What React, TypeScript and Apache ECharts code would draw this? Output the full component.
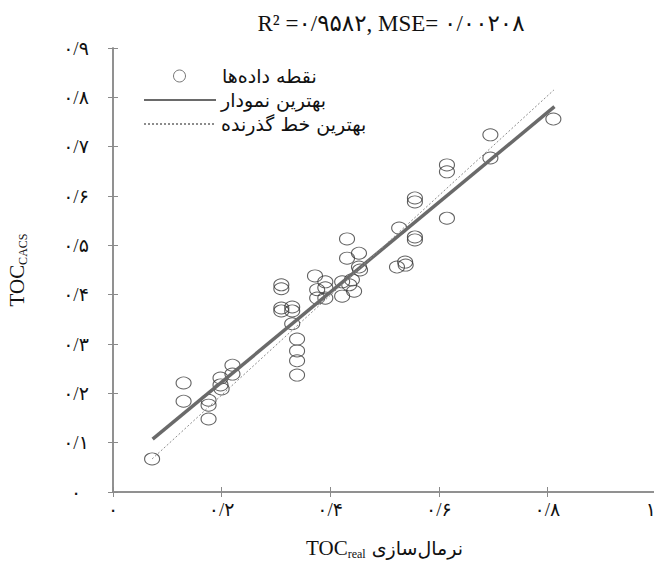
import React, { useEffect, useRef } from "react";
import * as echarts from "echarts";

// Scatter data (normalised TOC_real vs TOC_CACS)
const pointsX = [
  0.072, 0.13, 0.13, 0.176, 0.176, 0.176, 0.198, 0.198, 0.2, 0.22, 0.22,
  0.31, 0.31, 0.31, 0.31, 0.33, 0.33, 0.33, 0.339, 0.339, 0.339, 0.339,
  0.372, 0.376, 0.376, 0.391, 0.391, 0.391, 0.422, 0.422, 0.431, 0.431,
  0.44, 0.444, 0.435, 0.453, 0.453, 0.455, 0.527, 0.523, 0.538, 0.539,
  0.556, 0.556, 0.556, 0.556, 0.615, 0.615, 0.615, 0.695, 0.695, 0.811,
];
const pointsY = [
  0.067, 0.221, 0.184, 0.186, 0.176, 0.148, 0.231, 0.217, 0.209, 0.257, 0.239,
  0.42, 0.412, 0.373, 0.367, 0.375, 0.367, 0.341, 0.31, 0.286, 0.266, 0.237,
  0.438, 0.41, 0.393, 0.426, 0.414, 0.393, 0.426, 0.397, 0.513, 0.474,
  0.43, 0.407, 0.42, 0.484, 0.456, 0.45, 0.535, 0.456, 0.466, 0.46,
  0.596, 0.588, 0.517, 0.511, 0.663, 0.649, 0.555, 0.724, 0.677, 0.756,
];
// Best fit line (solid) and best passing line (dotted) end points
const fitLineX = [0.073, 0.813];
const fitLineY = [0.107, 0.781];
const passLineX = [0.072, 0.812];
const passLineY = [0.067, 0.815];

const seriesNames = ["نقطه داده‌ها", "بهترین نمودار", "بهترین خط گذرنده"];
const titleText = "R² =۰/۹۵۸۲, MSE= ۰/۰۰۲۰۸";

const FA_DIGITS = "۰۱۲۳۴۵۶۷۸۹";
const toFa = (v: number) =>
  String(Math.round(v * 10) / 10)
    .replace(/[0-9]/g, (d) => FA_DIGITS[+d])
    .replace(".", "/");

const SERIF = "'Liberation Serif', 'DejaVu Sans', serif";
const PERSIAN = "'DejaVu Sans', sans-serif";
const AXIS_GRAY = "#8a8a8a";
const INK = "#111111";

export default function App() {
  const ref = useRef<HTMLDivElement>(null);

  useEffect(() => {
    if (!ref.current) return;
    const chart = echarts.init(ref.current, undefined, { renderer: "svg" });

    const scatterData = pointsX.map((x, i) => [x, pointsY[i]]);
    const fitData = fitLineX.map((x, i) => [x, fitLineY[i]]);
    const passData = passLineX.map((x, i) => [x, passLineY[i]]);

    const axisLine = { show: true, lineStyle: { color: AXIS_GRAY, width: 1.5 } };
    const axisTick = { show: true, inside: true, length: 5, lineStyle: { color: AXIS_GRAY, width: 1 } };
    const labelStyle = {
      color: INK,
      fontSize: 19,
      fontFamily: SERIF,
      formatter: (v: number) => toFa(v),
    };

    chart.setOption({
      animation: false,
      backgroundColor: "#fff",
      graphic: [
        {
          type: "text",
          x: 391,
          y: 23,
          style: {
            text: titleText,
            font: `23px ${SERIF}`,
            fill: INK,
            align: "center",
            verticalAlign: "middle",
          },
        },
      ],
      grid: {
        left: 113,
        top: 48,
        width: 543,
        height: 444,
        containLabel: false,
        outerBoundsMode: "none",
      },
      legend: [
        {
          data: [seriesNames[0]],
          left: 168,
          top: 60,
          icon: "circle",
          itemWidth: 15,
          itemHeight: 12,
          selectedMode: false,
          itemStyle: { color: "transparent", borderColor: "#555", borderWidth: 1 },
          textStyle: {
            fontSize: 19,
            fontFamily: PERSIAN,
            color: INK,
            lineHeight: 22,
            padding: [0, 0, 0, 30],
          },
        },
        {
          data: [seriesNames[1], seriesNames[2]],
          orient: "vertical",
          left: 138,
          top: 84,
          itemWidth: 72,
          itemHeight: 14,
          itemGap: 2,
          selectedMode: false,
          itemStyle: { color: "transparent", borderColor: "transparent", borderWidth: 0, opacity: 0 },
          textStyle: { fontSize: 19, fontFamily: PERSIAN, color: INK, lineHeight: 22 },
        },
      ],
      xAxis: [
        {
          type: "value",
          min: 0,
          max: 1,
          interval: 0.2,
          position: "bottom",
          axisLine,
          axisTick,
          splitLine: { show: false },
          axisLabel: { ...labelStyle, margin: 8, alignMaxLabel: "right" },
          name: "{a|TOC}{b|real}{c| نرمال‌سازی}",
          nameLocation: "middle",
          nameGap: 44,
          nameTextStyle: {
            color: INK,
            rich: {
              a: { fontSize: 21, lineHeight: 24, fontFamily: SERIF, color: INK },
              b: { fontSize: 12, lineHeight: 12, fontFamily: SERIF, color: INK, verticalAlign: "bottom" },
              c: { fontSize: 19, lineHeight: 24, fontFamily: PERSIAN, color: INK },
            },
          },
        },
        {
          type: "value",
          min: 0,
          max: 1,
          interval: 0.2,
          position: "top",
          axisLine,
          axisTick,
          splitLine: { show: false },
          axisLabel: { show: false },
        },
      ],
      yAxis: [
        {
          type: "value",
          min: 0,
          max: 0.9,
          interval: 0.1,
          position: "left",
          axisLine,
          axisTick,
          splitLine: { show: false },
          axisLabel: { ...labelStyle, margin: 37, align: "center" },
          name: "{a|TOC}{b|CACS}",
          nameLocation: "middle",
          nameGap: 84,
          nameTextStyle: {
            color: INK,
            rich: {
              a: { fontSize: 21, lineHeight: 24, fontFamily: SERIF, color: INK },
              b: { fontSize: 12, lineHeight: 12, fontFamily: SERIF, color: INK, verticalAlign: "bottom" },
            },
          },
        },
        {
          type: "value",
          min: 0,
          max: 0.9,
          interval: 0.1,
          position: "right",
          axisLine,
          axisTick,
          splitLine: { show: false },
          axisLabel: { show: false },
        },
      ],
      series: [
        {
          name: seriesNames[0],
          type: "scatter",
          xAxisIndex: 0,
          yAxisIndex: 0,
          data: scatterData,
          symbol: "circle",
          symbolSize: [15, 12],
          itemStyle: { color: "transparent", borderColor: "#3a3a3a", borderWidth: 1 },
          z: 2,
        },
        {
          name: seriesNames[1],
          type: "line",
          xAxisIndex: 0,
          yAxisIndex: 0,
          data: fitData,
          symbol: "none",
          showSymbol: false,
          lineStyle: { color: "#6a6a6a", width: 3.5, type: "solid" },
          itemStyle: { color: "#6a6a6a" },
          z: 3,
        },
        {
          name: seriesNames[2],
          type: "line",
          xAxisIndex: 0,
          yAxisIndex: 0,
          data: passData,
          symbol: "none",
          showSymbol: false,
          lineStyle: { color: "#8c8c8c", width: 1, type: [2, 2] },
          itemStyle: { color: "#8c8c8c" },
          z: 3,
        },
      ],
    });

    return () => chart.dispose();
  }, []);

  return (
    <div
      ref={ref}
      style={{ position: "fixed", left: 0, top: 0, width: 654, height: 568, background: "#fff" }}
    />
  );
}
